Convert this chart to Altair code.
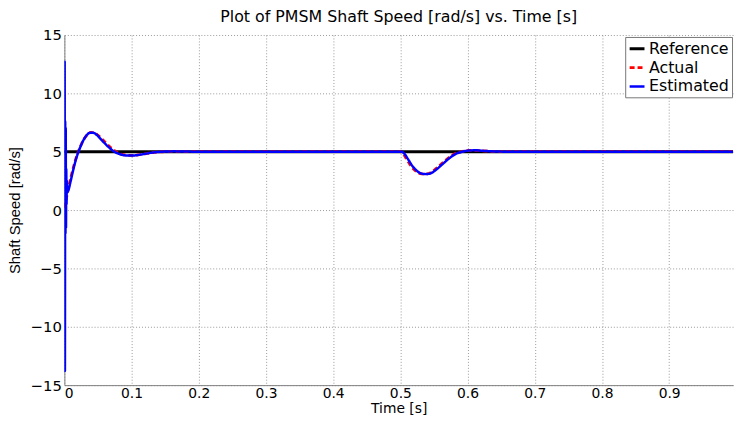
import altair as alt
import pandas as pd

# ---- data ----
ref_t = [0.0, 1.0]
ref_v = [5.0, 5.0]

act_t = [0.0, 0.003, 0.006, 0.01, 0.015, 0.02, 0.025, 0.03, 0.035, 0.04, 0.045,
         0.05, 0.06, 0.07, 0.08, 0.09, 0.1, 0.11, 0.12, 0.13, 0.14, 0.16, 0.18,
         0.2, 0.5, 0.505, 0.51, 0.515, 0.52, 0.525, 0.53, 0.535, 0.54, 0.545,
         0.55, 0.56, 0.57, 0.58, 0.59, 0.6, 0.61, 0.62, 0.64, 0.66, 1.0]
act_v = [0.2, 1.0, 1.9, 2.9, 4.0, 4.9, 5.6, 6.15, 6.5, 6.65, 6.6,
         6.4, 5.85, 5.3, 4.9, 4.72, 4.68, 4.72, 4.82, 4.92, 4.98, 5.03, 5.01,
         5.0, 5.0, 4.75, 4.3, 3.85, 3.5, 3.25, 3.12, 3.08, 3.1, 3.2,
         3.4, 3.9, 4.4, 4.8, 5.0, 5.1, 5.12, 5.08, 5.02, 5.0, 5.0]

est_t = [0.0, 0.0004, 0.0008, 0.0012, 0.0016, 0.002, 0.0024, 0.0028, 0.0032,
         0.0036, 0.004, 0.006, 0.009, 0.013, 0.018, 0.023, 0.028, 0.033, 0.038,
         0.043, 0.048, 0.053, 0.063, 0.073, 0.083, 0.093, 0.103, 0.113, 0.123,
         0.133, 0.143, 0.163, 0.183, 0.2, 0.502, 0.507, 0.512, 0.517, 0.522,
         0.527, 0.532, 0.537, 0.542, 0.547, 0.552, 0.562, 0.572, 0.582, 0.592,
         0.602, 0.612, 0.622, 0.642, 0.662, 1.0]
est_v = [0.0, 12.7, -13.8, 7.6, -2.0, 7.0, -1.5, 3.5, 0.5, 2.5, 1.5, 1.7, 2.4,
         3.4, 4.5, 5.3, 5.95, 6.4, 6.62, 6.62, 6.45, 6.15, 5.55, 5.05, 4.78,
         4.68, 4.68, 4.75, 4.85, 4.94, 4.99, 5.03, 5.01, 5.0, 5.0, 4.75, 4.3,
         3.85, 3.5, 3.25, 3.12, 3.08, 3.1, 3.2, 3.4, 3.9, 4.4, 4.8, 5.0, 5.1,
         5.12, 5.08, 5.02, 5.0, 5.0]

series = ["Reference", "Actual", "Estimated"]
colors = ["#000000", "#ff0000", "#0000ff"]
dashes = [[1, 0], [5, 3], [1, 0]]
widths = [3, 2.5, 3]

x_ticks = [0, 0.1, 0.2, 0.3, 0.4, 0.5, 0.6, 0.7, 0.8, 0.9]
y_ticks = [-15, -10, -5, 0, 5, 10, 15]

rows = []
for name, ts, vs in [("Reference", ref_t, ref_v), ("Actual", act_t, act_v),
                     ("Estimated", est_t, est_v)]:
    for i, (t, v) in enumerate(zip(ts, vs)):
        rows.append({"t": t, "v": v, "s": name, "i": i})
df = pd.DataFrame(rows)

WIDE = "DejaVu Sans"
NARROW = "Liberation Sans"

chart = alt.Chart(df).mark_line(clip=True, interpolate="monotone").encode(
    x=alt.X("t:Q", scale=alt.Scale(domain=[0, 0.995], nice=False, zero=False),
            axis=alt.Axis(values=x_ticks, format="~g", title="Time [s]",
                          labelFontSize=14, titleFontSize=14, titlePadding=1,
                          labelPadding=2)),
    y=alt.Y("v:Q", scale=alt.Scale(domain=[-15, 15], nice=False),
            axis=alt.Axis(values=y_ticks, format="d", title="Shaft Speed [rad/s]",
                          titleFont=NARROW, titlePadding=8, labelPadding=3)),
    color=alt.Color("s:N", scale=alt.Scale(domain=series, range=colors),
                    legend=alt.Legend(title=None, orient="none", legendX=567, legendY=2,
                                      symbolType="stroke", symbolSize=225,
                                      symbolStrokeWidth=2, labelFontSize=16,
                                      labelFont=WIDE, labelColor="black",
                                      rowPadding=2, padding=3, labelOffset=3,
                                      strokeColor="#777777", fillColor="white",
                                      labelLimit=200)),
    strokeDash=alt.StrokeDash("s:N", scale=alt.Scale(domain=series, range=dashes),
                              legend=None),
    strokeWidth=alt.StrokeWidth("s:N", scale=alt.Scale(domain=series, range=widths),
                                legend=None),
    order="i:Q",
).properties(
    width=676, height=354,
    title=alt.Title("Plot of PMSM Shaft Speed [rad/s] vs. Time [s]", font=WIDE,
                    fontSize=16, fontWeight="normal", color="black", offset=3),
    autosize=alt.AutoSizeParams(type="none"),
    padding={"left": 57, "top": 25, "right": 1, "bottom": 36},
).configure_axis(
    labelFont=WIDE, labelFontSize=15, labelColor="black",
    titleFont=WIDE, titleFontSize=15, titleFontWeight="normal", titleColor="black",
    grid=True, gridColor="#999999", gridDash=[1, 2], gridWidth=1,
    domainColor="#808080", domainWidth=1, ticks=False,
).configure_view(stroke=None)

chart.save("out.html", embed_options={"renderer": "svg", "actions": False})
